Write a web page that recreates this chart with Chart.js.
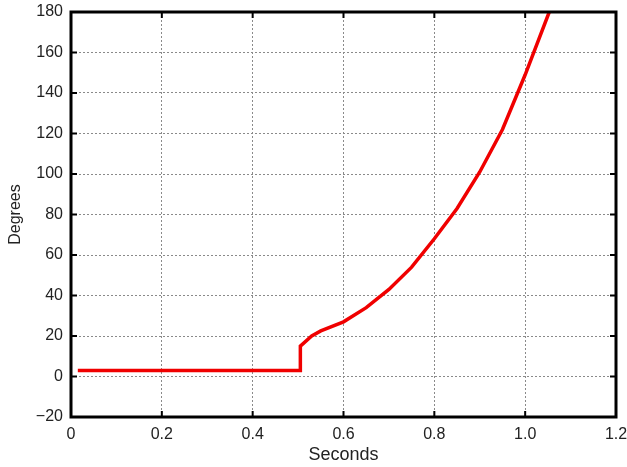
<!DOCTYPE html>
<html>
<head>
<meta charset="utf-8">
<script src="https://cdn.jsdelivr.net/npm/chart.js@4.4.0/dist/chart.umd.min.js"></script>
<style>
  html, body { margin: 0; padding: 0; background: #fff; }
  #wrap { width: 627px; height: 467px; }
</style>
</head>
<body>
<div id="wrap"><canvas id="angleChart"></canvas></div>
<script>
// values
const seconds = [0.015, 0.505, 0.505, 0.53, 0.55, 0.6, 0.65, 0.7, 0.75, 0.8, 0.85, 0.9, 0.95, 1.0, 1.053];
const degrees = [3, 3, 15, 20, 22.5, 27, 34, 43, 54, 68, 83, 101, 122, 149, 180];

const xTicks = [0, 0.2, 0.4, 0.6, 0.8, 1.0, 1.2];
const xTickLabels = ['0', '0.2', '0.4', '0.6', '0.8', '1.0', '1.2'];
const yTicks = [-20, 0, 20, 40, 60, 80, 100, 120, 140, 160, 180];
const yTickLabels = ['\u221220', '0', '20', '40', '60', '80', '100', '120', '140', '160', '180'];

const points = seconds.map((s, i) => ({ x: s, y: degrees[i] }));

// thick black frame with short inward ticks on every side
const framePlugin = {
    id: 'frame',
    afterDraw(chart) {
        const { ctx, chartArea: a, scales } = chart;
        ctx.save();
        ctx.strokeStyle = '#000';
        ctx.lineWidth = 2;
        ctx.beginPath();
        xTicks.slice(1, -1).forEach(v => {
            const px = scales.x.getPixelForValue(v);
            ctx.moveTo(px, a.bottom); ctx.lineTo(px, a.bottom - 6);
            ctx.moveTo(px, a.top); ctx.lineTo(px, a.top + 6);
        });
        yTicks.slice(1, -1).forEach(v => {
            const py = scales.y.getPixelForValue(v);
            ctx.moveTo(a.left, py); ctx.lineTo(a.left + 6, py);
            ctx.moveTo(a.right, py); ctx.lineTo(a.right - 6, py);
        });
        ctx.stroke();
        ctx.lineWidth = 3;
        ctx.strokeRect(a.left, a.top, a.right - a.left, a.bottom - a.top);
        ctx.restore();
    }
};

const ctx = document.getElementById('angleChart').getContext('2d');
new Chart(ctx, {
    type: 'line',
    data: {
        datasets: [{
            data: points,
            borderColor: '#f00000',
            borderWidth: 3.5,
            pointRadius: 0,
            tension: 0,
            fill: false
        }]
    },
    options: {
        responsive: true,
        maintainAspectRatio: false,
        animation: false,
        layout: { padding: { left: 0, top: 12, right: 11, bottom: 0 } },
        plugins: { legend: { display: false }, tooltip: { enabled: false } },
        scales: {
            x: {
                type: 'linear',
                min: 0,
                max: 1.2,
                afterBuildTicks: s => { s.ticks = xTicks.map(v => ({ value: v })); },
                afterFit: s => { s.height = 50; s.paddingLeft = 0; s.paddingRight = 0; },
                ticks: {
                    padding: 8,
                    color: '#222',
                    font: { family: 'Liberation Sans, Arial, sans-serif', size: 16 },
                    callback: (v) => xTickLabels[xTicks.indexOf(v)],
                    maxRotation: 0
                },
                grid: {
                    drawTicks: false,
                    color: (c) => (c.tick && (c.tick.value === 0 || c.tick.value === 1.2)) ? 'rgba(0,0,0,0)' : '#8a8a8a',
                    lineWidth: 1
                },
                border: { display: false, dash: [2, 2] },
                title: {
                    display: true,
                    text: 'Seconds',
                    color: '#222',
                    font: { family: 'Liberation Sans, Arial, sans-serif', size: 18 },
                    padding: { top: 0, bottom: 1 }
                }
            },
            y: {
                min: -20,
                max: 180,
                afterBuildTicks: s => { s.ticks = yTicks.map(v => ({ value: v })); },
                afterFit: s => { s.width = 71; s.paddingTop = 0; s.paddingBottom = 0; },
                ticks: {
                    padding: 8,
                    color: '#222',
                    font: { family: 'Liberation Sans, Arial, sans-serif', size: 16 },
                    callback: (v) => yTickLabels[yTicks.indexOf(v)]
                },
                grid: {
                    drawTicks: false,
                    color: (c) => (c.tick && (c.tick.value === -20 || c.tick.value === 180)) ? 'rgba(0,0,0,0)' : '#8a8a8a',
                    lineWidth: 1
                },
                border: { display: false, dash: [2, 2] },
                title: {
                    display: true,
                    text: 'Degrees',
                    color: '#222',
                    font: { family: 'Liberation Sans, Arial, sans-serif', size: 16 },
                    padding: { top: 6, bottom: 0 }
                }
            }
        }
    },
    plugins: [framePlugin]
});
</script>
</body>
</html>
